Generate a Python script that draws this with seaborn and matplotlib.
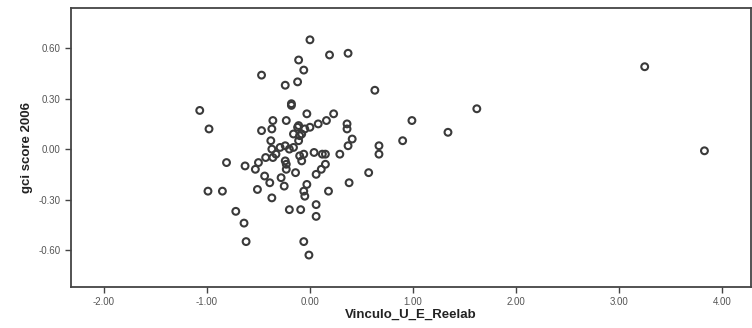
import pandas as pd
import matplotlib
matplotlib.use('Agg')
import matplotlib.pyplot as plt
import seaborn as sns

# Vinculo_U_E_Reelab values
vinculo = [
    0.00, 0.19, 0.37, -0.11, -0.06, -0.47, -0.24, -0.12, 0.63, -0.18, -0.18,
    -1.07, -0.03, 0.23, 0.16, -0.36, -0.23, -0.98, -0.47, -0.37, -0.11, 0.00,
    0.36, 0.36, -0.12, -0.16, -0.08, -0.11, 0.41, 0.37, 0.67, 0.67, -0.38,
    -0.37, -0.29, -0.24, -0.16, -0.33, -0.36, -0.43, -0.06, 0.04, 0.12, 0.15,
    0.29, -0.08, -0.24, -0.23, 0.15, -0.81, -0.63, -0.50, -0.53, -0.23, 0.11,
    -0.14, 0.06, -0.44, -0.28, 0.57, 0.38, -0.39, -0.03, -0.25, -0.51, -0.06,
    -0.99, -0.85, 0.18, -0.05, -0.37, 0.06, -0.20, -0.09, 0.06, -0.72, -0.64,
    -0.62, -0.06, -0.01, 1.62, 0.99, 1.34, 0.90, 3.25, 3.83, -0.05, -0.10,
    -0.20, -0.10, 0.08,
]

# gci score 2006 values
gci = [
    0.65, 0.56, 0.57, 0.53, 0.47, 0.44, 0.38, 0.40, 0.35, 0.26, 0.27,
    0.23, 0.21, 0.21, 0.17, 0.17, 0.17, 0.12, 0.11, 0.12, 0.14, 0.13,
    0.15, 0.12, 0.13, 0.09, 0.09, 0.05, 0.06, 0.02, 0.02, -0.03, 0.05,
    0.00, 0.01, 0.02, 0.01, -0.03, -0.05, -0.05, -0.03, -0.02, -0.03, -0.03,
    -0.03, -0.07, -0.07, -0.09, -0.09, -0.08, -0.10, -0.08, -0.12, -0.12, -0.12,
    -0.14, -0.15, -0.16, -0.17, -0.14, -0.20, -0.20, -0.21, -0.22, -0.24, -0.25,
    -0.25, -0.25, -0.25, -0.28, -0.29, -0.33, -0.36, -0.36, -0.40, -0.37, -0.44,
    -0.55, -0.55, -0.63, 0.24, 0.17, 0.10, 0.05, 0.49, -0.01, 0.12, 0.08,
    0.00, -0.04, 0.15,
]

x_ticks = [-2, -1, 0, 1, 2, 3, 4]
y_ticks = [-0.60, -0.30, 0.00, 0.30, 0.60]

df = pd.DataFrame({'Vinculo_U_E_Reelab': vinculo, 'gci score 2006': gci})

sns.set_style('white')
plt.rcParams['font.family'] = ['Liberation Sans', 'DejaVu Sans']

fig = plt.figure(figsize=(7.52, 3.28), dpi=100)
ax = fig.add_axes([0.0944, 0.125, 0.904, 0.851])

sns.scatterplot(
    data=df,
    x='Vinculo_U_E_Reelab',
    y='gci score 2006',
    facecolors='none',
    edgecolor='#3a3a3a',
    linewidths=1.5,
    s=24,
    ax=ax
)

ax.set_xlim(-2.32, 4.28)
ax.set_ylim(-0.82, 0.84)
ax.set_xticks(x_ticks)
ax.set_xticklabels([f'{t:.2f}' for t in x_ticks])
ax.set_yticks(y_ticks)
ax.set_yticklabels([f'{t:.2f}' for t in y_ticks])
ax.tick_params(axis='both', direction='out', length=4, width=1,
               bottom=True, left=True,
               color='#444444', labelsize=7, labelcolor='#555555')

for side in ax.spines.values():
    side.set_color('#444444')
    side.set_linewidth(1.3)

ax.set_xlabel('Vinculo_U_E_Reelab', fontsize=9.5, fontweight='bold',
              color='#222222', labelpad=1)
ax.set_ylabel('gci score 2006', fontsize=9.5, fontweight='bold',
              color='#222222', labelpad=4,
              family=['Liberation Sans Narrow', 'Liberation Sans'])

fig.savefig('out.png', dpi=100)
